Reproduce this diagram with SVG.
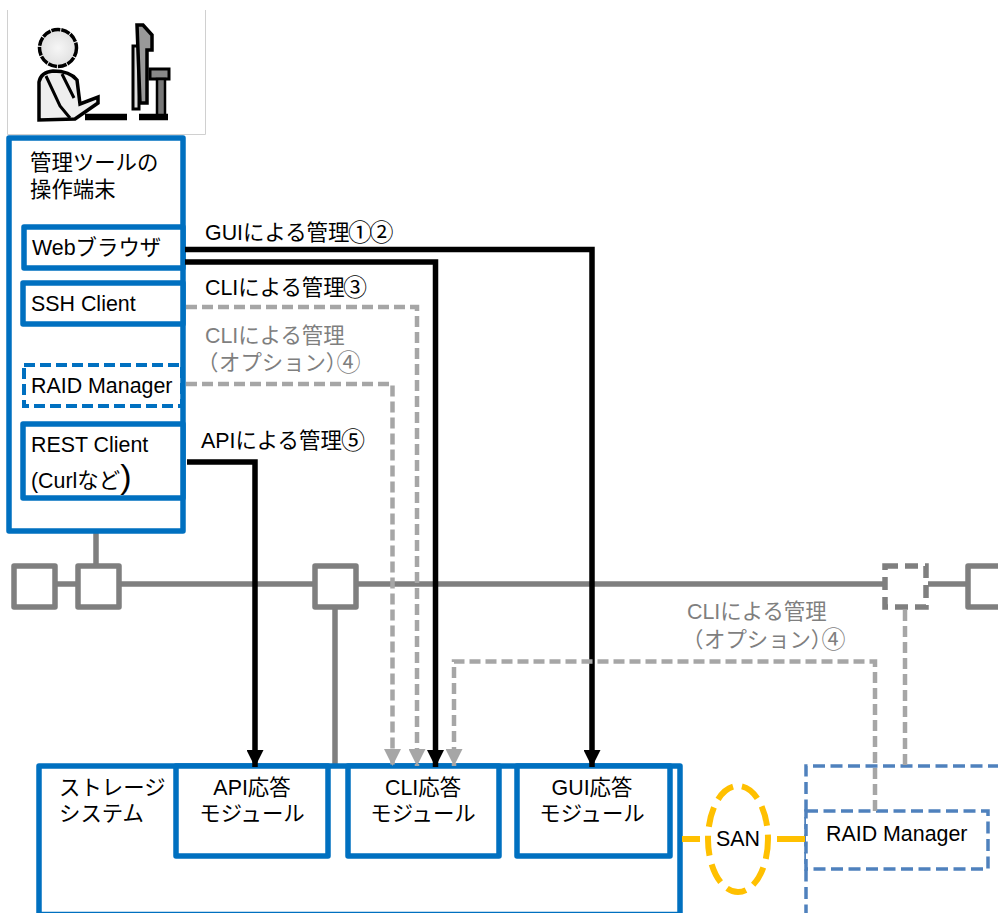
<svg xmlns="http://www.w3.org/2000/svg" width="998" height="913" viewBox="0 0 998 913">
<style>
text{font-family:"Liberation Sans","Noto Sans CJK JP",sans-serif;font-size:21.4px;fill:#000}
.g{fill:#7f7f7f}
.m{text-anchor:middle}
.p{font-family:"Noto Sans CJK JP",sans-serif;font-feature-settings:"palt"}
.d{font-size:24px;letter-spacing:-2.500px;font-family:"Noto Sans CJK JP",sans-serif}
.b{fill:#fff;stroke:#0070c0;stroke-width:5.500;stroke-linejoin:round}
.bd{fill:#fff;stroke:#0070c0;stroke-width:4;stroke-dasharray:11 5}
.bb{fill:#fff;stroke:#4f81bd;stroke-width:3.500;stroke-dasharray:12 5.500}
.n{fill:#fff;stroke:#7f7f7f;stroke-width:5.500;stroke-linejoin:round}
.c{fill:none;stroke:#000;stroke-width:5.500}
.o{fill:none;stroke:#a6a6a6;stroke-width:4.500;stroke-dasharray:11 5}
.l{fill:none;stroke:#7f7f7f;stroke-width:5.500}
.y{fill:none;stroke:#ffc000;stroke-width:6;stroke-dasharray:20 9}
.t{stroke:#000;fill:none;stroke-width:3}
</style>
<defs>
<radialGradient id="hd"><stop offset="0" stop-color="#f6f6f6"/><stop offset="1" stop-color="#e0e0e0"/></radialGradient>
<marker id="ab" markerUnits="userSpaceOnUse" markerWidth="18" markerHeight="17" refX="17" refY="8.500" orient="auto"><path d="M0 0L17 8.500L0 17z" fill="#000"/></marker>
<marker id="ag" markerUnits="userSpaceOnUse" markerWidth="18" markerHeight="17" refX="17" refY="8.500" orient="auto"><path d="M0 0L17 8.500L0 17z" fill="#a6a6a6"/></marker>
</defs>
<g id="operator-icon">
<path d="M7.500 10V134.500H205.500V10" fill="none" stroke="#d0d0d0" stroke-width="1"/>
<circle cx="58" cy="48" r="18.500" fill="url(#hd)" stroke="#000" stroke-width="3.500" stroke-dasharray="9 1"/>
<path d="M39 120V82Q41 72 53 71Q70 71 77 80L80 104L98 97V103L75 119Z" fill="#eee" stroke="#000" stroke-width="3.500"/>
<path d="M46 76L60 106L70 118M62 74L74 98" class="t"/>
<path d="M85 117H127" stroke="#000" stroke-width="6.500"/>
<path d="M133 46H139V109H133Z" fill="#ddd" stroke="#000" stroke-width="3"/>
<path d="M137 25H143L152 35V50H147V103H140Z" fill="#999" stroke="#000" stroke-width="3.500"/>
<path d="M150 69H169V79H150Z" fill="#888" stroke="#000" stroke-width="3"/>
<path d="M157 79H165V116H157Z" fill="#777" stroke="#000" stroke-width="2.500"/>
<path d="M139 117H168" stroke="#000" stroke-width="6.500"/>
</g>
<g id="network">
<path class="l" d="M55 584H78M121 584H315M356 584H884M928 584H968M96 531V565M335 607V765"/>
</g>
<g id="switch-1"><rect class="n" x="14" y="566" width="41" height="41"/></g>
<g id="switch-2"><rect class="n" x="78" y="566" width="41" height="41"/></g>
<g id="switch-3"><rect class="n" x="315" y="566" width="41" height="41"/></g>
<g id="switch-4"><rect x="885" y="566" width="41" height="41" fill="#fff" stroke="#7f7f7f" stroke-width="5.500" stroke-dasharray="13 7"/></g>
<g id="switch-5"><path class="n" d="M1003 566H968V607H1003"/></g>
<g id="raid-manager-terminal"><rect class="bd" x="24" y="365" width="158" height="41"/><text x="31" y="393">RAID Manager</text></g>
<g id="terminal">
<rect fill="none" stroke="#0070c0" stroke-width="5.500" stroke-linejoin="round" x="9" y="138" width="174" height="393"/>
<text x="30" y="170">管理ツールの</text><text x="30" y="197">操作端末</text>
</g>
<g id="web-browser"><rect class="b" x="24" y="227" width="159" height="41"/><text x="32" y="255">Webブラウザ</text></g>
<g id="ssh-client"><rect class="b" x="23" y="283" width="160" height="41"/><text x="31" y="311">SSH Client</text></g>
<g id="rest-client"><rect class="b" x="23" y="424" width="160" height="74"/><text x="31" y="452">REST Client</text><text x="31" y="488">(Curlなど<tspan font-size="34">)</tspan></text></g>
<g id="storage-system">
<rect class="b" x="39" y="766" width="641" height="148.500"/>
<text x="59" y="795">ストレージ</text><text x="59" y="821">システム</text>
</g>
<g id="api-module"><rect class="b" x="176" y="766" width="152" height="90"/><text class="m" x="252" y="795">API応答</text><text class="m" x="252" y="821">モジュール</text></g>
<g id="cli-module"><rect class="b" x="348" y="766" width="151" height="90"/><text class="m" x="423" y="795">CLI応答</text><text class="m" x="423" y="821">モジュール</text></g>
<g id="gui-module"><rect class="b" x="517" y="766" width="153" height="90"/><text class="m" x="592" y="795">GUI応答</text><text class="m" x="592" y="821">モジュール</text></g>
<g id="raid-host"><path class="bb" d="M1000 766H806V913" style="fill:none"/></g>
<g id="raid-manager-host"><rect class="bb" x="806" y="811" width="182" height="58"/><text x="826" y="841">RAID Manager</text></g>
<g id="san"><ellipse class="y" cx="738" cy="839" rx="30" ry="53"/><text class="m" x="738" y="846">SAN</text></g>
<g id="connectors">
<path class="c" marker-end="url(#ab)" d="M185 249.500H592V767"/>
<path class="c" marker-end="url(#ab)" d="M185 262H435.500V767"/>
<path class="c" marker-end="url(#ab)" d="M187 462H255V767"/>
<path class="o" marker-end="url(#ag)" d="M186 307H417V766"/>
<path class="o" marker-end="url(#ag)" d="M186 384H392.500V766"/>
<path class="o" marker-end="url(#ag)" d="M875 811V661.500H454V766"/>
<path class="o" d="M905 610V766"/>
<path class="y" style="stroke-dasharray:none" d="M682 839H700M777 839H805"/>
</g>
<g id="labels">
<text x="205" y="240">GUIによる管理<tspan class="d" x="348" dy="1">①②</tspan></text>
<text x="205" y="295">CLIによる管理<tspan class="d" x="343" dy="1">③</tspan></text>
<text class="g" x="205" y="343">CLIによる管理</text>
<text class="g" y="370"><tspan class="p" x="207">（</tspan><tspan x="219">オプション</tspan><tspan class="p" x="326.500">）</tspan><tspan class="d g" x="336.500" dy="1">④</tspan></text>
<text x="201" y="448">APIによる管理<tspan class="d" x="341" dy="1">⑤</tspan></text>
<text class="g" x="687" y="619">CLIによる管理</text>
<text class="g" y="647"><tspan class="p" x="692">（</tspan><tspan x="704">オプション</tspan><tspan class="p" x="811.500">）</tspan><tspan class="d g" x="821.500" dy="1">④</tspan></text>
</g>
</svg>
